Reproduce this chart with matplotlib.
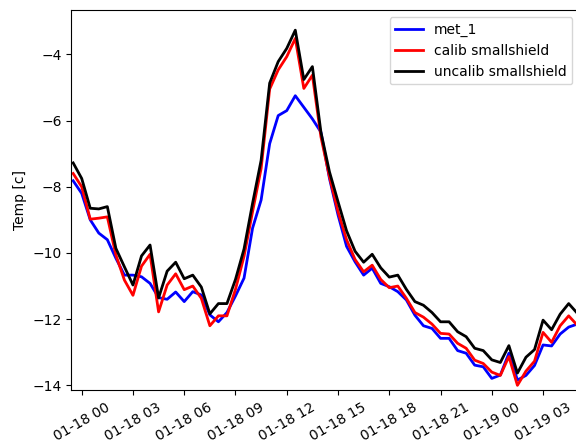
import pandas as pd
import matplotlib
matplotlib.use('Agg')
import matplotlib.pyplot as plt
import matplotlib.dates as mdates

# время: каждые 30 минут, с 01-17 23:30 по 01-19 05:00
times = pd.date_range('2022-01-17 23:30', periods=60, freq='30min')

met_1 = [
    -7.82, -8.20, -9.00, -9.40, -9.60, -10.16, -10.67, -10.67, -10.72, -10.92,
    -11.35, -11.40, -11.18, -11.47, -11.17, -11.27, -11.87, -12.08, -11.80, -11.30,
    -10.76, -9.25, -8.40, -6.70, -5.85, -5.70, -5.25, -5.60, -5.95, -6.35,
    -7.75, -8.85, -9.80, -10.27, -10.67, -10.46, -10.92, -11.02, -11.17, -11.42,
    -11.88, -12.20, -12.28, -12.58, -12.58, -12.95, -13.03, -13.39, -13.44, -13.79,
    -13.69, -13.03, -13.84, -13.70, -13.40, -12.78, -12.81, -12.45, -12.24, -12.15,
]

calib_small = [
    -7.60, -8.00, -8.98, -8.95, -8.91, -10.06, -10.82, -11.28, -10.40, -10.04,
    -11.78, -10.97, -10.63, -11.11, -11.00, -11.37, -12.20, -11.90, -11.90, -11.10,
    -10.10, -8.75, -7.45, -5.05, -4.47, -4.07, -3.52, -5.03, -4.63, -6.49,
    -7.70, -8.75, -9.60, -10.20, -10.57, -10.37, -10.80, -11.05, -11.00, -11.37,
    -11.80, -11.94, -12.15, -12.43, -12.45, -12.73, -12.88, -13.24, -13.34, -13.60,
    -13.70, -13.13, -14.00, -13.57, -13.27, -12.40, -12.70, -12.20, -11.90, -12.18,
]

uncalib_small = [
    -7.28, -7.75, -8.65, -8.67, -8.60, -9.86, -10.42, -10.97, -10.09, -9.76,
    -11.36, -10.55, -10.28, -10.78, -10.67, -11.03, -11.84, -11.53, -11.53, -10.80,
    -9.88, -8.50, -7.20, -4.87, -4.22, -3.82, -3.27, -4.76, -4.37, -6.35,
    -7.55, -8.45, -9.33, -9.95, -10.28, -10.04, -10.45, -10.73, -10.67, -11.10,
    -11.47, -11.58, -11.80, -12.08, -12.08, -12.38, -12.53, -12.88, -12.95, -13.23,
    -13.31, -12.80, -13.63, -13.15, -12.92, -12.03, -12.32, -11.85, -11.53, -11.82,
]


def main():
    fig = plt.figure(figsize=(5.76, 4.45), dpi=100)
    # оси чуть выходят за правый край, как на исходной картинке
    ax = fig.add_axes([0.1238, 0.1229, 0.8818, 0.8539])

    ax.plot(times, met_1, color='blue', linewidth=2, label='met_1')
    ax.plot(times, calib_small, color='red', linewidth=2, label='calib smallshield')
    ax.plot(times, uncalib_small, color='black', linewidth=2, label='uncalib smallshield')

    ax.set_xlim(pd.Timestamp('2022-01-17 23:23:30'), pd.Timestamp('2022-01-19 05:07'))
    ax.set_ylim(-14.15, -2.67)
    ax.set_yticks([-14, -12, -10, -8, -6, -4])

    ax.xaxis.set_major_locator(mdates.HourLocator(byhour=range(0, 24, 3)))
    ax.xaxis.set_major_formatter(mdates.DateFormatter('%m-%d %H'))
    plt.setp(ax.get_xticklabels(), rotation=30)

    ax.set_ylabel('Temp [c]')
    ax.legend(loc='upper right')

    fig.savefig('out.png', dpi=100)


if __name__ == "__main__":
    main()
